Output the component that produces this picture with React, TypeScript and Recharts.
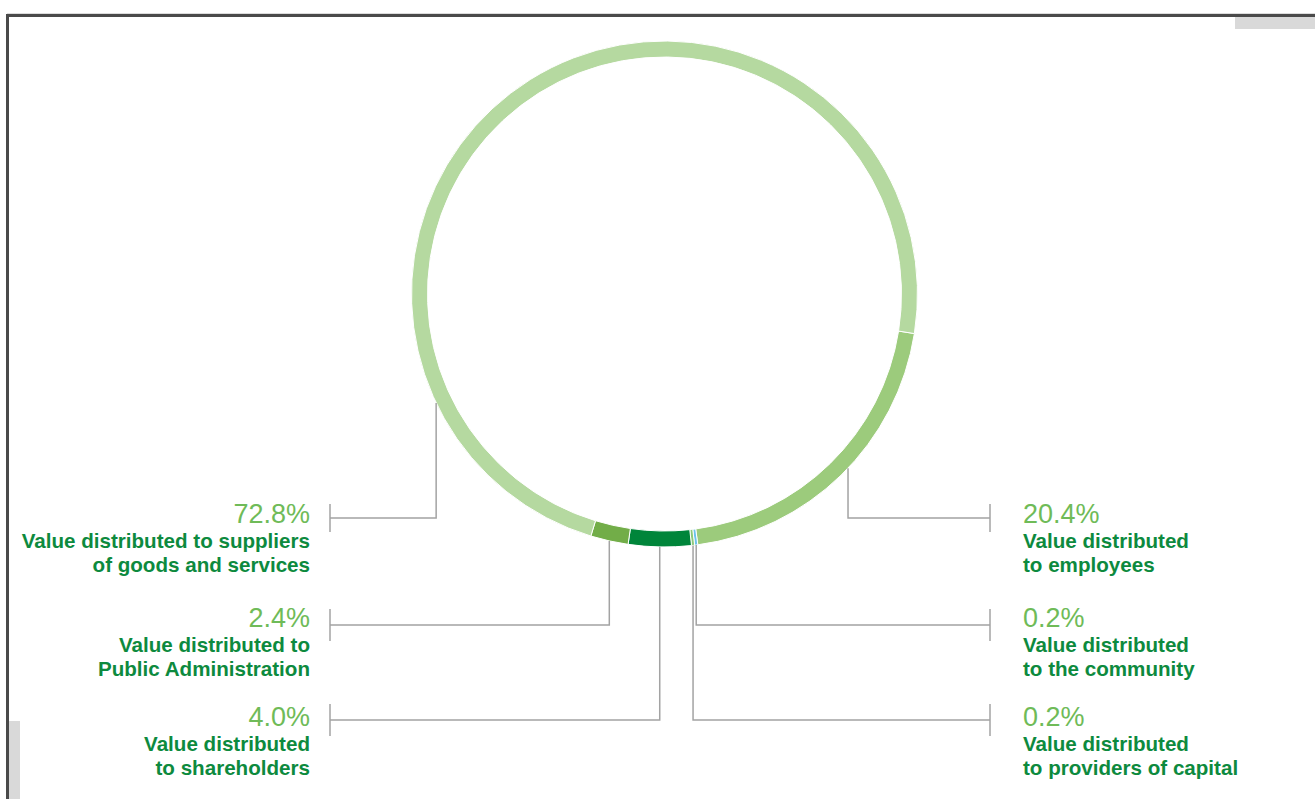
import { PieChart, Pie, Cell } from "recharts";

// slices, clockwise starting from the right side of the ring
const sliceNames = [
  "employees",
  "community",
  "providers of capital",
  "shareholders",
  "Public Administration",
  "suppliers",
];
const shares = [20.4, 0.2, 0.2, 4.0, 2.4, 72.8];
const captions = [
  ["Value distributed", "to employees"],
  ["Value distributed", "to the community"],
  ["Value distributed", "to providers of capital"],
  ["Value distributed", "to shareholders"],
  ["Value distributed to", "Public Administration"],
  ["Value distributed to suppliers", "of goods and services"],
];
const sliceColors = ["#9ccb7c", "#6cc3ec", "#8fc97a", "#00853a", "#72ad48", "#b5d9a0"];

const data = sliceNames.map((name, i) => ({ name, value: shares[i] }));

// label placement
const labelSide = ["right", "right", "right", "left", "left", "left"];
const labelRow = [0, 1, 2, 2, 1, 0];
const anchorAngle: (number | null)[] = [-43.5, null, null, null, null, -154.5];
const rowLineY = [518, 625, 720];
const rowTextY = [523, 627, 726];
const rowTick = [14, 16, 16];

const RAD = Math.PI / 180;
const FONT = "'Liberation Sans', Arial, Helvetica, sans-serif";

const renderLabel = (props: any) => {
  const { cx, cy, midAngle, outerRadius, index } = props;
  const ang = anchorAngle[index] ?? midAngle;
  const x0 = cx + outerRadius * Math.cos(-ang * RAD);
  const y0 = cy + outerRadius * Math.sin(-ang * RAD);
  const row = labelRow[index];
  const ly = rowLineY[row];
  const ty = rowTextY[row];
  const right = labelSide[index] === "right";
  const tickX = right ? 990 : 330;
  const textX = right ? 1023 : 310;
  const anchor = right ? "start" : "end";
  const t = rowTick[row];
  return (
    <g key={`lbl-${index}`}>
      <polyline
        points={`${x0},${y0} ${x0},${ly} ${tickX},${ly}`}
        fill="none"
        stroke="#a3a3a3"
        strokeWidth={1.5}
      />
      <line x1={tickX} y1={ly - t} x2={tickX} y2={ly + t} stroke="#a3a3a3" strokeWidth={1.5} />
      <text x={textX} y={ty} textAnchor={anchor} fontFamily={FONT} fontSize={27} fill="#6fbb58">
        {`${shares[index].toFixed(1)}%`}
      </text>
      <text x={textX} y={ty + 25} textAnchor={anchor} fontFamily={FONT} fontSize={20.6} fontWeight={700} fill="#0d8a3e">
        {captions[index][0]}
      </text>
      <text x={textX} y={ty + 49} textAnchor={anchor} fontFamily={FONT} fontSize={20.6} fontWeight={700} fill="#0d8a3e">
        {captions[index][1]}
      </text>
    </g>
  );
};

const App = () => {
  return (
    <div style={{ position: "absolute", left: 0, top: 0, width: 1315, height: 799, background: "#fff", overflow: "hidden" }}>
      {/* frame */}
      <div style={{ position: "absolute", left: 7, top: 13, width: 1308, height: 1, background: "#dcdcdc" }} />
      <div style={{ position: "absolute", left: 1235, top: 14, width: 80, height: 15, background: "#d9d9d9" }} />
      <div style={{ position: "absolute", left: 6, top: 14, width: 1309, height: 3, background: "#4a4a4a" }} />
      <div style={{ position: "absolute", left: 6, top: 14, width: 3, height: 785, background: "#4a4a4a" }} />
      <div style={{ position: "absolute", left: 9, top: 721, width: 11, height: 78, background: "#d9d9d9" }} />
      <div style={{ position: "absolute", left: 0, top: 0 }}>
        <PieChart width={1315} height={799} margin={{ top: 0, right: 0, bottom: 0, left: 0 }}>
          <Pie
            data={data}
            dataKey="value"
            nameKey="name"
            cx={664.5}
            cy={294}
            innerRadius={237}
            outerRadius={253}
            startAngle={-9}
            endAngle={-369}
            stroke="#ffffff"
            strokeWidth={1}
            label={renderLabel}
            labelLine={false}
            isAnimationActive={false}
          >
            {data.map((d, i) => (
              <Cell key={d.name} fill={sliceColors[i]} />
            ))}
          </Pie>
        </PieChart>
      </div>
    </div>
  );
};

export default App;
